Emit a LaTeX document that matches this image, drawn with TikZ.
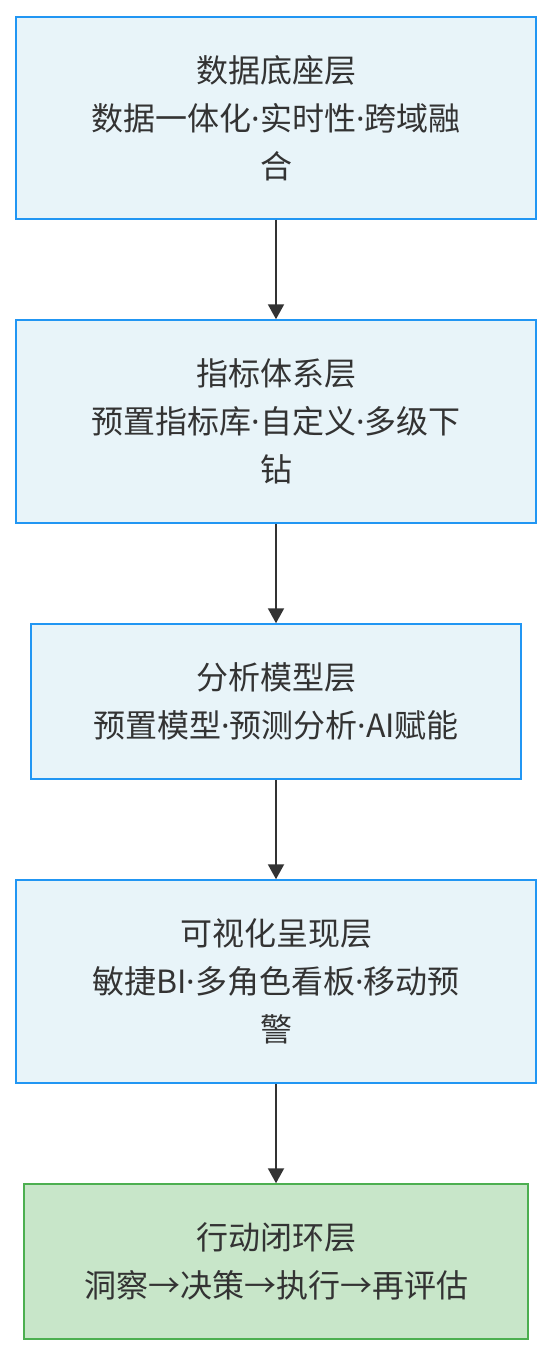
\documentclass[tikz,border=0pt]{standalone}
\usepackage{fontspec}
\setmainfont{Noto Sans CJK SC}
\newfontfamily\latinfont{Noto Sans}
\newcommand{\sepdot}{{\latinfont ·}}
\usetikzlibrary{arrows.meta}
\newlength{\du}
\setlength{\du}{1pt}
\definecolor{layerline}{HTML}{2196F3}
\definecolor{layerfill}{HTML}{E8F4F9}
\definecolor{actline}{HTML}{4CAF50}
\definecolor{actfill}{HTML}{C8E6C9}
\definecolor{textgray}{HTML}{333333}
\definecolor{flowgray}{HTML}{333333}
\tikzset{
  layerbox/.style={draw=layerline, fill=layerfill, line width=1.5\du, inner sep=0pt,
    align=center, text=textgray, font=\fontsize{32}{48}\selectfont},
  actbox/.style={layerbox, draw=actline, fill=actfill},
  flowline/.style={draw=flowgray, line width=2\du, -{Triangle[width=16pt,length=15pt]}}
}

\begin{document}
\begin{tikzpicture}[yscale=-1]
\useasboundingbox (0\du,0\du) rectangle (552\du,1356\du);
\node[layerbox, minimum width=520\du, minimum height=202\du] (base) at (276\du,118\du)
  {数据底座层\\数据一体化\sepdot 实时性\sepdot 跨域融\\合};
\node[layerbox, minimum width=520\du, minimum height=203\du] (metric) at (276\du,421.5\du)
  {指标体系层\\预置指标库\sepdot 自定义\sepdot 多级下\\钻};
\node[layerbox, minimum width=490\du, minimum height=155\du] (model) at (276\du,701.5\du)
  {分析模型层\\预置模型\sepdot 预测分析\sepdot AI赋能};
\node[layerbox, minimum width=520\du, minimum height=203\du] (view) at (276\du,981.5\du)
  {可视化呈现层\\敏捷BI\sepdot 多角色看板\sepdot 移动预\\警};
\node[actbox, minimum width=504\du, minimum height=155\du] (action) at (276\du,1261.5\du)
  {行动闭环层\\洞察→决策→执行→再评估};
\draw[flowline] (base) -- (metric);
\draw[flowline] (metric) -- (model);
\draw[flowline] (model) -- (view);
\draw[flowline] (view) -- (action);
\end{tikzpicture}
\end{document}
